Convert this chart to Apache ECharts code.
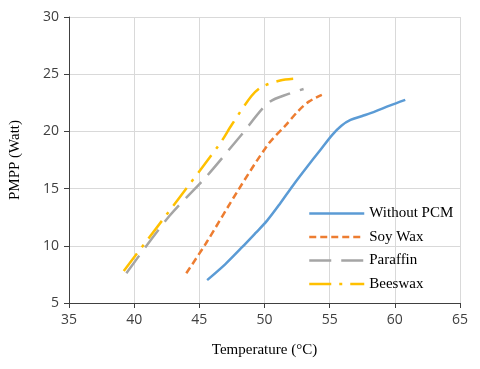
<!DOCTYPE html>
<html>
<head>
<meta charset="utf-8">
<script src="https://cdn.jsdelivr.net/npm/echarts@6/dist/echarts.min.js"></script>
<style>
  html, body { margin: 0; padding: 0; background: #fff; }
  #chart { width: 480px; height: 369px; }
</style>
</head>
<body>
<div id="chart"></div>
<script>
var seriesNames = ['Without PCM', 'Soy Wax', 'Paraffin', 'Beeswax'];
var withoutPCM = [[45.6, 7.0], [47, 8.4], [48.3, 9.9], [49.3, 11.1], [50.2, 12.2], [51.2, 13.7], [52.2, 15.3], [53.2, 16.8], [54.3, 18.4], [55.2, 19.7], [55.9, 20.5], [56.6, 21.0], [57.5, 21.35], [58.5, 21.75], [59.6, 22.25], [60.8, 22.75]];
var soyWax = [[44.0, 7.6], [45.5, 10.2], [48.0, 14.9], [50.3, 18.9], [51.6, 20.5], [52.6, 21.8], [53.4, 22.6], [54.4, 23.2]];
var paraffin = [[39.4, 7.6], [42.7, 12.6], [45.5, 16.0], [48.3, 19.8], [50.3, 22.5], [51.9, 23.3], [53.0, 23.7]];
var beeswax = [[39.2, 7.8], [46.5, 18.8], [47.5, 20.6], [49.0, 23.1], [49.8, 23.9], [51.2, 24.45], [52.2, 24.6]];

var lineColors = ['#5b9bd5', '#ed7d31', '#a5a5a5', '#ffc000'];
var lineDashes = ['solid', [7, 4], [22, 10], [22, 8, 3, 8]];

var chart = echarts.init(document.getElementById('chart'));

function line(i, data) {
  return {
    name: seriesNames[i],
    type: 'line',
    data: data,
    smooth: 0.3,
    showSymbol: false,
    symbol: 'none',
    lineStyle: { color: lineColors[i], width: 2.5, type: lineDashes[i], cap: 'butt' },
    itemStyle: { color: lineColors[i] }
  };
}

var option = {
  animation: false,
  grid: { left: 65, right: 20, top: 17, bottom: 66 },
  legend: {
    orient: 'vertical',
    left: 303,
    top: 201,
    itemWidth: 55,
    itemHeight: 14,
    itemGap: 8.5,
    textStyle: { fontFamily: 'Liberation Serif', fontSize: 15, color: '#000' },
    data: seriesNames.map(function (n, i) {
      return {
        name: n,
        itemStyle: { opacity: 0 },
        lineStyle: { color: lineColors[i], width: 2.5, type: lineDashes[i], opacity: 1 }
      };
    })
  },
  xAxis: {
    type: 'value',
    min: 35, max: 65, interval: 5,
    name: 'Temperature (°C)',
    nameLocation: 'middle',
    nameGap: 40,
    nameTextStyle: { fontFamily: 'Liberation Serif', fontSize: 15, color: '#000' },
    axisLine: { show: true, lineStyle: { color: '#404040', width: 1 } },
    axisTick: { show: true, length: 5, lineStyle: { color: '#404040' } },
    axisLabel: { fontFamily: 'Open Sans', fontSize: 14, color: '#404040', margin: 10 },
    splitLine: { show: true, lineStyle: { color: '#d9d9d9', width: 1 } }
  },
  yAxis: {
    type: 'value',
    min: 5, max: 30, interval: 5,
    name: 'PMPP (Watt)',
    nameLocation: 'middle',
    nameGap: 46,
    nameTextStyle: { fontFamily: 'Liberation Serif', fontSize: 15, color: '#000' },
    axisLine: { show: true, lineStyle: { color: '#404040', width: 1 } },
    axisTick: { show: true, length: 5, lineStyle: { color: '#404040' } },
    axisLabel: { fontFamily: 'Open Sans', fontSize: 14, color: '#404040', margin: 10 },
    splitLine: { show: true, lineStyle: { color: '#d9d9d9', width: 1 } }
  },
  series: [
    line(0, withoutPCM),
    line(1, soyWax),
    line(2, paraffin),
    line(3, beeswax)
  ]
};

chart.setOption(option);
</script>
</body>
</html>
